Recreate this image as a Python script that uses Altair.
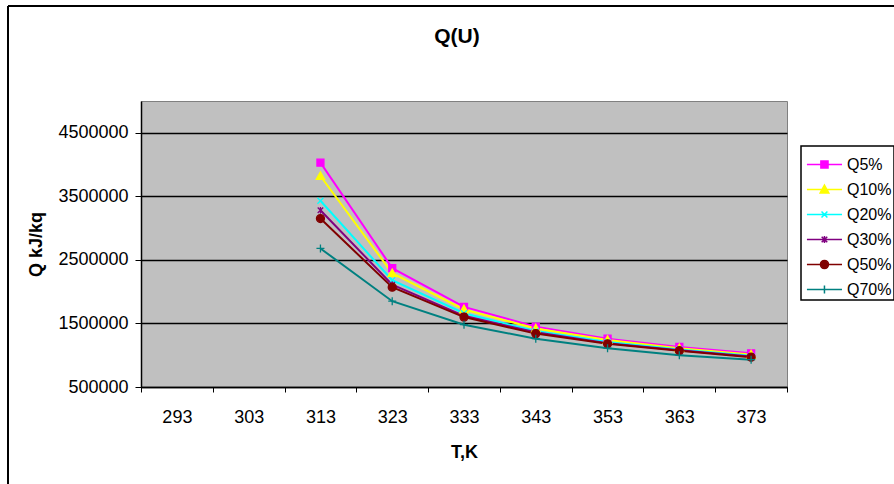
import altair as alt
import pandas as pd

temps = ["293", "303", "313", "323", "333", "343", "353", "363", "373"]
series = ["Q5%", "Q10%", "Q20%", "Q30%", "Q50%", "Q70%"]
q5 = [None, None, 4030000, 2370000, 1760000, 1450000, 1260000, 1130000, 1030000]
q10 = [None, None, 3820000, 2290000, 1720000, 1420000, 1240000, 1110000, 1010000]
q20 = [None, None, 3430000, 2180000, 1660000, 1380000, 1210000, 1090000, 990000]
q30 = [None, None, 3280000, 2110000, 1620000, 1360000, 1190000, 1080000, 980000]
q50 = [None, None, 3150000, 2070000, 1600000, 1340000, 1180000, 1070000, 970000]
q70 = [None, None, 2680000, 1850000, 1480000, 1260000, 1110000, 1000000, 930000]
y_ticks = [500000, 1500000, 2500000, 3500000, 4500000]
colors = ["#FF00FF", "#FFFF00", "#00FFFF", "#800080", "#800000", "#008080"]
chart_title = "Q(U)"

rows = []
for name, vals in zip(series, [q5, q10, q20, q30, q50, q70]):
    for t, v in zip(temps, vals):
        rows.append({"T": t, "Q": v, "series": name})
df = pd.DataFrame(rows)

FONT = "Liberation Sans, Arial, sans-serif"


def r(v):
    return f"{v:.3f}"


def sq(cx, h):
    return f"M{r(cx-h)},{r(-h)}H{r(cx+h)}V{r(h)}H{r(cx-h)}Z"


def tri(cx, h):
    return f"M{r(cx)},{r(-h)}L{r(cx+h)},{r(h*0.8)}H{r(cx-h)}Z"


def xs(cx, h):
    return f"M{r(cx-h)},{r(-h)}L{r(cx+h)},{r(h)}M{r(cx-h)},{r(h)}L{r(cx+h)},{r(-h)}"


def ast(cx, h):
    return xs(cx, h) + f"M{r(cx)},{r(-h*1.25)}V{r(h*1.25)}"


def circ(cx, rad):
    return (f"M{r(cx+rad)},0A{r(rad)},{r(rad)} 0 1,1 {r(cx-rad)},0"
            f"A{r(rad)},{r(rad)} 0 1,1 {r(cx+rad)},0Z")


def plus(cx, h):
    return f"M{r(cx-h)},0H{r(cx+h)}M{r(cx)},{r(-h)}V{r(h)}"


# plot markers (size 100 -> unit = 5px)
plot_shapes = [sq(0, 0.7), tri(0, 0.85), xs(0, 0.6), ast(0, 0.55), circ(0, 0.8), plus(0, 0.8)]
# legend symbols: line + marker (size 961 -> unit = 15.5px)
L = "M-0.81,0H1.45"
c = 0.32
legend_shapes = [L + sq(c, 0.23), L + tri(c, 0.28), L + xs(c, 0.19),
                 L + ast(c, 0.18), L + circ(c, 0.26), L + plus(c, 0.26)]

x_enc = alt.X(
    "T:O",
    sort=temps,
    scale=alt.Scale(type="band", domain=temps, paddingInner=0, paddingOuter=0),
    axis=alt.Axis(
        title="T,K", labelAngle=0, tickBand="extent", grid=False,
        domainColor="black", domainWidth=1.5, tickColor="black", tickSize=5,
        labelFontSize=18, labelFont=FONT, labelColor="black", labelPadding=16,
        titleFontSize=18, titleFont=FONT, titleFontWeight="bold", titleColor="black",
        titleY=65, titleBaseline="middle",
    ),
)
y_enc = alt.Y(
    "Q:Q",
    scale=alt.Scale(domain=[500000, 5000000], nice=False, zero=False),
    axis=alt.Axis(
        title="Q kJ/kq", values=y_ticks, format="d", grid=True,
        gridColor="black", gridWidth=1.5, gridOpacity=1,
        domainColor="black", domainWidth=1.5, tickColor="black", tickSize=6,
        labelFontSize=18, labelFont=FONT, labelColor="black", labelPadding=7,
        titleFontSize=18, titleFont=FONT, titleFontWeight="bold", titleColor="black",
        titleX=-96, titleBaseline="bottom",
    ),
)

color_scale = alt.Scale(domain=series, range=colors)

lines = alt.Chart(df).mark_line(strokeWidth=2).encode(
    x=x_enc, y=y_enc,
    color=alt.Color("series:N", scale=color_scale, legend=None),
)

points = alt.Chart(df).mark_point(filled=True, size=100, strokeWidth=1.3, opacity=1).encode(
    x=x_enc, y=y_enc,
    color=alt.Color("series:N", scale=color_scale, legend=None),
    stroke=alt.Stroke("series:N", scale=color_scale, legend=None),
    shape=alt.Shape("series:N", scale=alt.Scale(domain=series, range=plot_shapes), legend=None),
)

leg = alt.Legend(
    title=None, orient="none", legendX=660, legendY=45,
    symbolSize=961, symbolStrokeWidth=1.5, symbolOpacity=1,
    labelFontSize=16, labelFont=FONT, labelColor="black", labelOffset=11,
    rowPadding=0, padding=2, strokeColor="black", fillColor="white",
)

legend_layer = alt.Chart(df).mark_point(filled=True, opacity=0, size=1).encode(
    x=x_enc, y=y_enc,
    color=alt.Color("series:N", scale=color_scale, legend=leg),
    stroke=alt.Stroke("series:N", scale=color_scale, legend=leg),
    shape=alt.Shape("series:N", scale=alt.Scale(domain=series, range=legend_shapes), legend=leg),
)

one = alt.Data(values=[{"label": chart_title}])
frame_top = alt.Chart(one).mark_rule(color="black", strokeWidth=2).encode(
    x=alt.value(-133), x2=alt.value(770), y=alt.value(-95))
frame_left = alt.Chart(one).mark_rule(color="black", strokeWidth=2).encode(
    x=alt.value(-133), y=alt.value(-95), y2=alt.value(400))
title_text = alt.Chart(one).mark_text(
    fontSize=21, fontWeight="bold", font=FONT, color="black",
    align="center", baseline="middle",
).encode(x=alt.value(316), y=alt.value(-64), text="label:N")

chart = alt.layer(lines, points, legend_layer, frame_top, frame_left, title_text).resolve_scale(
    color="independent", stroke="independent", shape="independent"
).resolve_legend(
    color="independent", stroke="independent", shape="independent"
).properties(
    width=646, height=286,
    autosize=alt.AutoSizeParams(type="none"),
    padding={"left": 141, "top": 101, "right": 107, "bottom": 97},
    background="white",
).configure_view(
    fill="#C0C0C0", stroke="#808080", strokeWidth=1,
).configure_legend(strokeWidth=1.5)

chart.save("out.html", embed_options={"renderer": "svg", "actions": False})
